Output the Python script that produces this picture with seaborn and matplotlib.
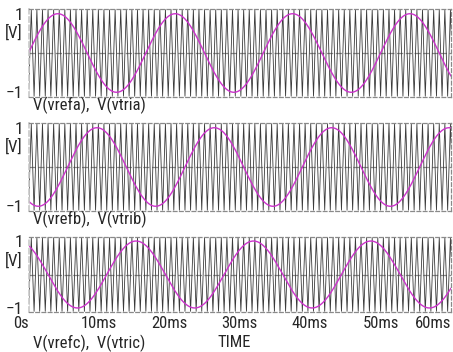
import numpy as np
import pandas as pd
import matplotlib
matplotlib.use("Agg")
import matplotlib.pyplot as plt
from matplotlib import font_manager as fm
import seaborn as sns

# ---- data ----
ref_freq_hz = 60.0                      # reference sine frequency
ref_amp = 1.0                           # reference amplitude [V]
ref_phase_deg = [0.0, -120.0, 120.0]    # phases of vrefa, vrefb, vrefc
carrier_freq_hz = 1260.0                # triangle carrier frequency
carrier_amp = 1.1                       # triangle amplitude [V]
t_end_ms = 60.0
panel_labels = ["V(vrefa),  V(vtria)", "V(vrefb),  V(vtrib)", "V(vrefc),  V(vtric)"]
x_ticks_ms = [0, 10, 20, 30, 40, 50, 60]
x_tick_labels = ["0s", "10ms", "20ms", "30ms", "40ms", "50ms", "60ms"]
y_ticks = [1, -1]
y_tick_labels = ["1", "\u22121"]
y_unit = "[V]"
x_title = "TIME"

sns.set_style("white")

# pick a narrow font if one is installed
names = {f.name for f in fm.fontManager.ttflist}
stretch = "normal"
family = None
for cand in ["Liberation Sans Narrow", "Arial Narrow", "Roboto Condensed", "Open Sans Condensed"]:
    if cand in names:
        family = cand
        break
if family is None:
    cond = [f for f in fm.fontManager.ttflist
            if f.name == "DejaVu Sans" and str(f.stretch) in ("condensed", "semi-condensed", "600", "700")]
    if cond:
        family = "DejaVu Sans"
        stretch = "condensed"
    else:
        family = "Liberation Sans"
plt.rcParams["font.family"] = [family, "DejaVu Sans"]
plt.rcParams["font.stretch"] = stretch

W, H = 453, 352
fig = plt.figure(figsize=(W / 100, H / 100), dpi=100)

left_px, right_px = 28.5, 451
frames = [(9, 97), (123, 211), (237, 312)]
ylim = 1.12

# fit font size so that the panel label has the reference width (~112 px)
probe = fig.text(0, 0, panel_labels[0], fontsize=10)
fig.canvas.draw()
wpx = probe.get_window_extent().width
probe.remove()
fs = 10 * 112.0 / wpx

# triangle vertices
half_period_ms = 1000.0 / carrier_freq_hz / 2
n_vert = int(np.ceil(t_end_ms / half_period_ms)) + 1
tri_t = np.arange(n_vert) * half_period_ms
tri_v = np.where(np.arange(n_vert) % 2 == 0, -carrier_amp, carrier_amp)
t_ms = np.linspace(0, t_end_ms, 3000)

for i, (top, bot) in enumerate(frames):
    ax = fig.add_axes([left_px / W, 1 - bot / H, (right_px - left_px) / W, (bot - top) / H])
    ref = ref_amp * np.sin(2 * np.pi * ref_freq_hz * t_ms / 1000 + np.deg2rad(ref_phase_deg[i]))
    df_tri = pd.DataFrame({"t": tri_t, "v": tri_v})
    df_ref = pd.DataFrame({"t": t_ms, "v": ref})
    sns.lineplot(data=df_tri, x="t", y="v", ax=ax, color="#3a3a3a", lw=0.6,
                 estimator=None, sort=False)
    sns.lineplot(data=df_ref, x="t", y="v", ax=ax, color="#cc33cc", lw=1.0,
                 estimator=None, sort=False)
    ax.axhline(0, color="#8a8a8a", lw=0.9, ls=(0, (5, 2)), zorder=0)
    ax.set_xlim(0, t_end_ms)
    ax.set_ylim(-ylim, ylim)
    ax.set_xlabel("")
    ax.set_ylabel("")
    for s in ["top", "bottom", "right"]:
        ax.spines[s].set_visible(True)
        ax.spines[s].set_color("#8a8a8a")
        ax.spines[s].set_linestyle((0, (3, 2)))
        ax.spines[s].set_linewidth(0.9)
    ax.spines["left"].set_color("#c8c8c8")
    ax.spines["left"].set_linestyle((0, (3, 2)))
    ax.spines["left"].set_linewidth(1.2)
    ax.set_yticks(y_ticks)
    ax.set_yticklabels(y_tick_labels, fontsize=fs * 1.05)
    ax.tick_params(axis="y", length=0, pad=4)
    fig.text(23 / W, 1 - (top + 24) / H, y_unit, ha="right", va="center", fontsize=fs)
    if i == 2:
        ax.set_xticks(x_ticks_ms)
        ax.set_xticklabels(x_tick_labels, fontsize=fs)
        ax.tick_params(axis="x", length=3, width=0.8, direction="out", pad=0, color="#202020")
        labs = ax.get_xticklabels()
        labs[0].set_horizontalalignment("right")
        labs[-1].set_horizontalalignment("right")
        fig.text(33 / W, 1 - 335 / H, panel_labels[i], ha="left", va="top", fontsize=fs)
    else:
        ax.set_xticks([])
        fig.text(33 / W, 1 - (bot + 0) / H, panel_labels[i], ha="left", va="top", fontsize=fs)
    ax.grid(False)

fig.text(234 / W, 1 - 350 / H, x_title, ha="center", va="bottom", fontsize=fs)
fig.savefig("out.png", dpi=100)
